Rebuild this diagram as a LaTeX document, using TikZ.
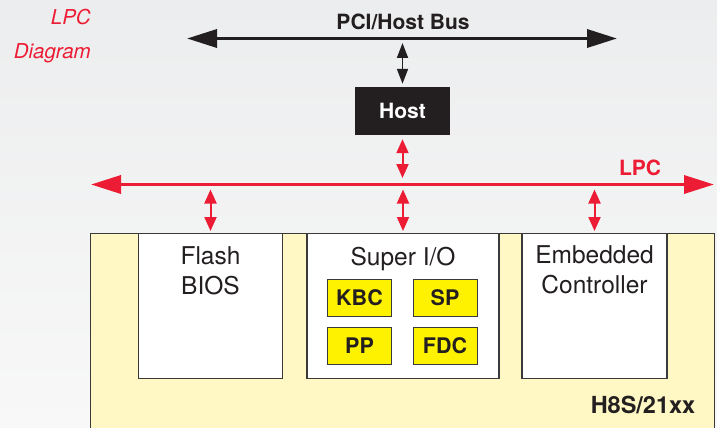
\documentclass[tikz,border=0pt]{standalone}
\usepackage{fontspec}
\setmainfont{TeX Gyre Heros}
\usetikzlibrary{arrows.meta}
\usetikzlibrary{positioning}
\definecolor{lpcred}{HTML}{EC1C34}
\definecolor{inkblack}{HTML}{231F20}
\definecolor{chipyellow}{HTML}{FFF200}
\definecolor{boardyellow}{HTML}{FFF8C4}
\definecolor{edgegray}{HTML}{3A3A3A}
\definecolor{backtop}{HTML}{ECEDEE}
\definecolor{backbottom}{HTML}{F8F8F8}
\tikzstyle{board}=[draw=edgegray,fill=boardyellow,line width=1.3pt,minimum width=624pt,minimum height=230pt,inner sep=0pt]
\tikzstyle{block}=[draw=edgegray,fill=white,line width=1.3pt,minimum width=144pt,minimum height=145pt,anchor=north,inner sep=0pt]
\tikzstyle{blocktext}=[align=center,inner sep=0pt,font=\fontsize{24.5}{29.5}\selectfont,text=inkblack]
\tikzstyle{chip}=[draw=edgegray,fill=chipyellow,line width=0.8pt,minimum width=64pt,minimum height=37pt,inner sep=0pt,font=\fontsize{21.5}{24}\selectfont\bfseries,text=inkblack]
\tikzstyle{hostbox}=[fill=inkblack,text=white,minimum width=95pt,minimum height=48pt,inner sep=0pt,font=\fontsize{21}{24}\selectfont\bfseries]
\tikzstyle{buslabel}=[inner sep=0pt,font=\fontsize{21}{24}\selectfont\bfseries]
\tikzstyle{bus}=[draw,line width=3.5pt,{Triangle[length=30pt,width=18pt]}-{Triangle[length=30pt,width=18pt]}]
\tikzstyle{link}=[draw,line width=2pt,{Triangle[length=14pt,width=12pt]}-{Triangle[length=14pt,width=12pt]}]

\begin{document}
\begin{tikzpicture}[x=1pt,y=-1pt]

    \clip (0,0) rectangle (717,428);
    \fill[top color=backtop,bottom color=backbottom] (0,0) rectangle (717,428);

    % title
    \node[align=right,anchor=north east,inner sep=0pt,text=lpcred,font=\fontsize{20.5}{32}\selectfont\itshape] (title) at (91,9) {LPC\\[2pt]Diagram};

    % the two buses
    \coordinate (pciL) at (187,38.5);
    \coordinate (pciR) at (617,38.5);
    \coordinate (lpcL) at (91,184.5);
    \coordinate (lpcR) at (714,184.5);
    \path[bus,draw=inkblack] (pciL) -- (pciR);
    \path[bus,draw=lpcred] (lpcL) -- (lpcR);
    \node[buslabel,text=inkblack] (pcilabel) at (403,22) {PCI/Host Bus};
    \node[buslabel,text=lpcred] (lpclabel) at (640,168) {LPC};

    \node[hostbox] (host) at (402.5,111) {Host};

    % chip board
    \node[board,anchor=north west] (board) at (90,233) {};
    \node[font=\fontsize{23.5}{26}\selectfont\bfseries,text=inkblack,inner sep=0pt] (boardname) at (643,405) {H8S/21xx};

    \foreach \pos/\name/\boxwidth in {{(210.5,233)/flash/144pt}, {(403,233)/superio/192pt}, {(594.5,233)/ec/145pt}}
        \node[block,minimum width=\boxwidth] (\name) at \pos {};

    \node[blocktext,below=13.5pt of flash.north] (flashname) {Flash\\BIOS};
    \node[blocktext,below=13.5pt of superio.north] (superioname) {Super I/O};
    \node[blocktext,below=12.5pt of ec.north] (ecname) {Embedded\\Controller};

    \foreach \pos/\name/\label in {{(359.5,297.5)/kbc/KBC}, {(445,297.5)/sp/SP}, {(359.5,346)/pp/PP}, {(445,346)/fdc/FDC}}
        \node[chip] (\name) at \pos {\label};

    % links between buses and blocks
    \coordinate (pcitap) at (pciL -| host.north);
    \coordinate (hosttap) at (lpcL -| host.south);
    \path[link,draw=inkblack,line width=1.8pt,{Triangle[length=15pt,width=11pt]}-{Triangle[length=15pt,width=11pt]},shorten <=4.5pt,shorten >=3pt] (pcitap) -- (host.north);
    \path[link,draw=lpcred,shorten <=4pt,shorten >=6.5pt] (host.south) -- (hosttap);

    \foreach \dest in {flash, superio, ec}
        \path[link,draw=lpcred,shorten <=5pt,shorten >=2pt] (lpcL -| \dest.north) -- (\dest.north);
\end{tikzpicture}
\end{document}
